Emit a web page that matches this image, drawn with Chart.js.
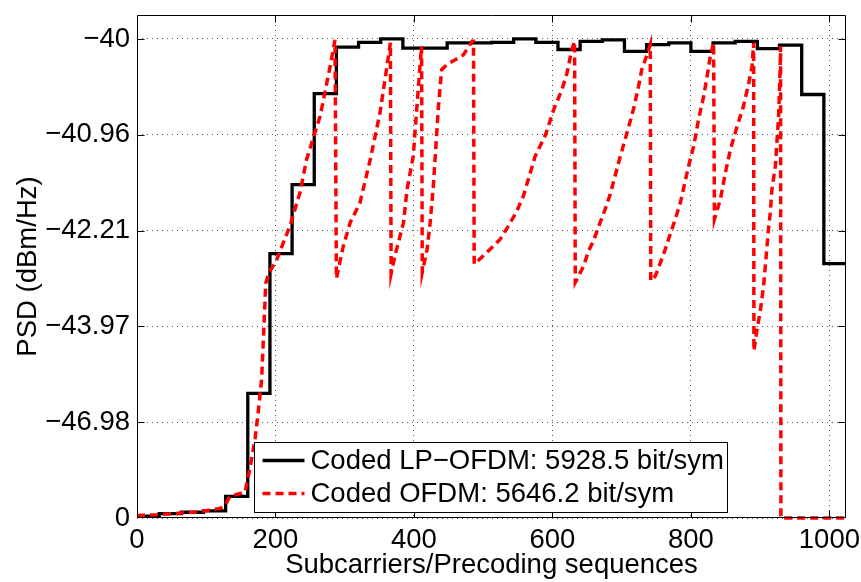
<!DOCTYPE html>
<html>
<head>
<meta charset="utf-8">
<script src="https://cdn.jsdelivr.net/npm/chart.js@4.4.1/dist/chart.umd.min.js"></script>
<style>
  html, body { margin: 0; padding: 0; background: #fff; }
</style>
</head>
<body>
<canvas id="psd-chart" width="861" height="582"></canvas>
<script>
// PSD is plotted on a linear scale (1 = -40 dBm/Hz), ticks are labelled in dB
const blockEdges = [0, 32, 64, 96, 128, 160, 192, 224, 256, 288, 320, 352, 384, 416, 448, 480,
  512, 544, 576, 608, 640, 672, 704, 736, 768, 800, 832, 864, 896, 928, 960, 992, 1024];
const lpOfdmPsd = [0.004, 0.009, 0.012, 0.015, 0.045, 0.260, 0.552, 0.696, 0.886, 0.983, 0.993, 1.000,
  0.981, 0.981, 0.992, 0.992, 0.993, 1.000, 0.993, 0.978, 0.995, 0.998, 0.974, 0.988,
  0.992, 0.974, 0.992, 0.995, 0.980, 0.987, 0.884, 0.531];

const ofdmX = [0, 30, 60, 90, 120, 128, 134, 156, 163, 170.5, 175, 180, 186, 190, 202, 221, 235.5, 245, 264.5, 279, 286,
  288, 298, 308, 322, 337, 351, 361, 366,
  367, 373, 385, 390, 399, 404, 409, 411,
  412, 419, 423.4, 428, 435.4, 440, 447.5, 471.5, 484, 486,
  487, 491, 510, 524.6, 536.6, 548.7, 558, 575, 590, 602, 613.7, 621, 628, 632,
  633, 636, 645, 652, 659, 669, 676, 683.5, 698, 707.7, 717, 724.4, 729, 736.6, 741.3,
  742, 748.6, 756, 763, 770, 777.5, 784.7, 796.7, 804, 811, 818.4, 823.4, 828, 832.8,
  834, 842.5, 849.7, 857, 866.6, 876, 883.5, 888.3, 890.6,
  891, 895.5, 900, 905, 910, 912, 914.7, 917, 922, 926.7, 929, 929.5,
  930, 1024];
const ofdmPsd = [0.005, 0.007, 0.010, 0.013, 0.020, 0.028, 0.045, 0.054, 0.103, 0.165, 0.22, 0.29, 0.49, 0.51, 0.54, 0.61, 0.68, 0.749, 0.839, 0.943, 0.998,
  0.50, 0.568, 0.617, 0.658, 0.749, 0.846, 0.943, 0.992,
  0.51, 0.55, 0.617, 0.686, 0.755, 0.853, 0.95, 0.985,
  0.513, 0.561, 0.617, 0.693, 0.86, 0.936, 0.946, 0.967, 0.995, 0.995,
  0.53, 0.535, 0.561, 0.582, 0.61, 0.641, 0.672, 0.755, 0.80, 0.853, 0.894, 0.929, 0.978, 0.995,
  0.492, 0.50, 0.526, 0.557, 0.578, 0.617, 0.644, 0.676, 0.755, 0.804, 0.853, 0.901, 0.936, 0.967, 0.988,
  0.495, 0.505, 0.533, 0.561, 0.592, 0.624, 0.658, 0.735, 0.776, 0.832, 0.88, 0.922, 0.964, 0.992,
  0.624, 0.665, 0.72, 0.769, 0.817, 0.86, 0.908, 0.943, 0.992,
  0.349, 0.394, 0.43, 0.485, 0.568, 0.603, 0.638, 0.686, 0.735, 0.839, 0.943, 0.985,
  0, 0];

const xTicks = [0, 200, 400, 600, 800, 1000];
const yTicks = [0, 0.2, 0.4, 0.6, 0.8, 1.0];
const yTickLabels = ['0', '\u221246.98', '\u221243.97', '\u221242.21', '\u221240.96', '\u221240'];
const legendLabels = ['Coded LP\u2212OFDM: 5928.5 bit/sym', 'Coded OFDM: 5646.2 bit/sym'];

const fontFamily = '"Liberation Sans", Arial, Helvetica, sans-serif';
const font = { family: fontFamily, size: 27.5, lineHeight: 1.2 };

// stairs: each block value holds until the next edge
const lpPoints = blockEdges.map((x, i) => ({ x: x, y: lpOfdmPsd[Math.min(i, lpOfdmPsd.length - 1)] }));
const ofdmPoints = ofdmX.map((x, i) => ({ x: x, y: ofdmPsd[i] }));

// matlab-like box: frame, inward ticks, legend inside the axes
const boxPlugin = {
  id: 'matlabBox',
  afterDatasetsDraw(chart) {
    const { ctx, chartArea: a, scales } = chart;
    const L = Math.round(a.left) + 0.5, R = Math.round(a.right) - 0.5;
    const T = Math.round(a.top) + 0.5, B = Math.round(a.bottom) - 0.5;
    ctx.save();
    ctx.strokeStyle = '#000';
    ctx.lineWidth = 1;
    ctx.setLineDash([]);
    ctx.beginPath();
    ctx.rect(L, T, R - L, B - T);
    xTicks.forEach(v => {
      if (v === 0) return;
      const px = Math.round(scales.x.getPixelForValue(v)) + 0.5;
      ctx.moveTo(px, B); ctx.lineTo(px, B - 7);
      ctx.moveTo(px, T); ctx.lineTo(px, T + 7);
    });
    yTicks.forEach(v => {
      if (v === 0) return;
      const py = Math.round(scales.y.getPixelForValue(v)) + 0.5;
      ctx.moveTo(L, py); ctx.lineTo(L + 7, py);
      ctx.moveTo(R, py); ctx.lineTo(R - 7, py);
    });
    ctx.stroke();

    // legend
    const lx = Math.round(a.left) + 117.5, ly = Math.round(a.top) + 427.5;
    const lw = 473, lh = 70;
    ctx.fillStyle = '#fff';
    ctx.fillRect(lx, ly, lw, lh);
    ctx.strokeRect(lx, ly, lw, lh);
    ctx.font = '27.5px ' + fontFamily;
    ctx.textBaseline = 'middle';
    ctx.textAlign = 'left';
    chart.data.datasets.forEach((ds, i) => {
      const cy = ly + 18 + i * 33;
      ctx.strokeStyle = ds.borderColor;
      ctx.lineWidth = ds.borderWidth;
      ctx.setLineDash(ds.borderDash || []);
      ctx.beginPath();
      ctx.moveTo(lx + 8, cy); ctx.lineTo(lx + 50, cy);
      ctx.stroke();
      ctx.fillStyle = '#000';
      ctx.fillText(ds.label, lx + 56, cy + 1);
    });
    ctx.restore();
  }
};

new Chart(document.getElementById('psd-chart'), {
  type: 'line',
  data: {
    datasets: [{
      label: legendLabels[0],
      data: lpPoints,
      borderColor: '#000000',
      borderWidth: 3.3,
      stepped: 'before',
      pointRadius: 0,
      order: 1,
      clip: 4
    }, {
      label: legendLabels[1],
      data: ofdmPoints,
      borderColor: '#ff0000',
      borderWidth: 3.5,
      borderDash: [8, 5],
      pointRadius: 0,
      tension: 0,
      order: 0,
      clip: 4
    }]
  },
  options: {
    responsive: false,
    animation: false,
    devicePixelRatio: 1,
    layout: { padding: { top: 15, right: 15, left: 0, bottom: 0 } },
    plugins: { legend: { display: false }, tooltip: { enabled: false } },
    scales: {
      x: {
        type: 'linear',
        min: 0,
        max: 1024,
        afterBuildTicks: s => { s.ticks = xTicks.map(v => ({ value: v })); },
        afterFit: s => { s.height = 64; s.paddingLeft = 0; s.paddingRight = 0; },
        ticks: {
          font: font, color: '#000', padding: 6, maxRotation: 0, autoSkip: false,
          callback: v => String(v)
        },
        grid: { color: '#555', lineWidth: 1, drawTicks: false },
        border: { display: false, dash: [1, 4] },
        title: { display: true, text: 'Subcarriers/Precoding sequences', font: font, color: '#000', padding: 0 }
      },
      y: {
        type: 'linear',
        min: 0,
        max: 1.05,
        afterBuildTicks: s => { s.ticks = yTicks.map(v => ({ value: v })); },
        afterFit: s => { s.width = 137; s.paddingTop = 0; s.paddingBottom = 0; },
        ticks: {
          font: font, color: '#000', padding: 7, autoSkip: false,
          callback: v => yTickLabels[yTicks.indexOf(v)]
        },
        grid: { color: '#555', lineWidth: 1, drawTicks: false },
        border: { display: false, dash: [1, 4] },
        title: { display: true, text: 'PSD (dBm/Hz)', font: font, color: '#000', padding: { top: 12, bottom: 0 } }
      }
    }
  },
  plugins: [boxPlugin]
});
</script>
</body>
</html>
